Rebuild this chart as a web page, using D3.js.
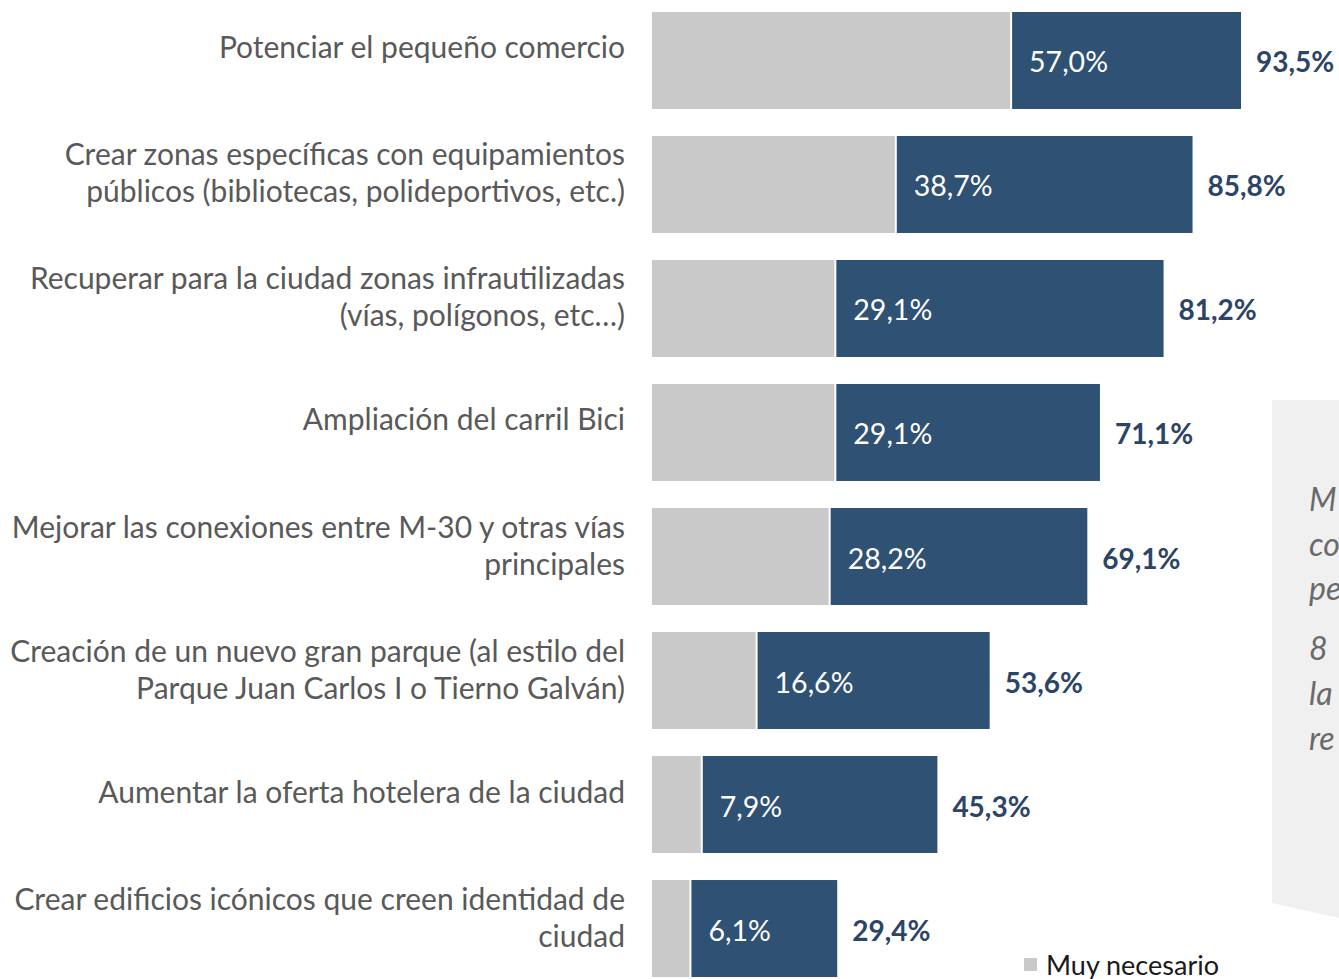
<!DOCTYPE html>
<html>
<head>
<meta charset="utf-8">
<script src="https://cdn.jsdelivr.net/npm/d3@7"></script>
<style>
  html, body { margin: 0; padding: 0; background: #ffffff; }
  svg { display: block; }
</style>
</head>
<body>
<svg id="chart" width="1339" height="979"></svg>
<script>
// ---- data ----
const categories = [
  ["Potenciar el pequeño comercio"],
  ["Crear zonas específicas con  equipamientos", "públicos (bibliotecas, polideportivos, etc.)"],
  ["Recuperar para la ciudad zonas infrautilizadas", "(vías, polígonos, etc…)"],
  ["Ampliación del carril Bici"],
  ["Mejorar las conexiones entre M-30 y otras vías", "principales"],
  ["Creación de un nuevo gran parque (al estilo del", "Parque Juan Carlos I o Tierno Galván)"],
  ["Aumentar la oferta hotelera de la ciudad"],
  ["Crear edificios icónicos que creen identidad de", "ciudad"]
];
const muyNecesario = [57.0, 38.7, 29.1, 29.1, 28.2, 16.6, 7.9, 6.1];
const totalNecesario = [93.5, 85.8, 81.2, 71.1, 69.1, 53.6, 45.3, 29.4];
const legendLabels = ["Muy necesario"];
const calloutLines = ["M", "co", "pe", "8", "la", "re"];

const fmt = v => v.toFixed(1).replace(".", ",") + "%";
const FONT = "Lato, 'Open Sans', sans-serif";

const svg = d3.select("#chart");

// callout panel (partially visible on the right)
svg.append("path")
  .attr("d", "M1272,400 L1339,400 L1339,918 L1272,903 Z")
  .attr("fill", "#f0f0f0");
svg.append("g").selectAll("text").data(calloutLines).join("text")
  .attr("x", 1309)
  .attr("y", (d, i) => [511, 556, 600, 660, 705, 750][i])
  .attr("font-family", FONT)
  .attr("font-style", "italic")
  .attr("font-size", 32)
  .attr("fill", "#6a6a6a")
  .text(d => d);

const idx = d3.range(categories.length);
const x = d3.scaleLinear().domain([0, 100]).range([652, 652 + 630]);
const y = d3.scaleBand().domain(idx).range([12, 977]).paddingInner(0.218).paddingOuter(0);

const rows = svg.append("g").selectAll("g").data(idx).join("g");

// grey segment (Muy necesario)
rows.append("rect")
  .attr("x", x(0))
  .attr("y", i => y(i))
  .attr("width", i => x(muyNecesario[i]) - x(0))
  .attr("height", y.bandwidth())
  .attr("fill", "#c9c9c9");

// dark segment (remainder up to total)
rows.append("rect")
  .attr("x", i => x(muyNecesario[i]))
  .attr("y", i => y(i))
  .attr("width", i => x(totalNecesario[i]) - x(muyNecesario[i]))
  .attr("height", y.bandwidth())
  .attr("fill", "#2f5173");

// white separator between segments
rows.append("line")
  .attr("x1", i => x(muyNecesario[i]))
  .attr("x2", i => x(muyNecesario[i]))
  .attr("y1", i => y(i))
  .attr("y2", i => y(i) + y.bandwidth())
  .attr("stroke", "#ffffff")
  .attr("stroke-width", 2);

// inner labels (Muy necesario value)
rows.append("text")
  .attr("x", i => x(muyNecesario[i]) + 18)
  .attr("y", i => y(i) + y.bandwidth() / 2 + 12)
  .attr("font-family", FONT)
  .attr("font-size", 28.5)
  .attr("fill", "#ffffff")
  .text(i => fmt(muyNecesario[i]));

// total labels
rows.append("text")
  .attr("x", i => x(totalNecesario[i]) + 15)
  .attr("y", i => y(i) + y.bandwidth() / 2 + 12)
  .attr("font-family", FONT)
  .attr("font-size", 28)
  .attr("font-weight", "bold")
  .attr("fill", "#2c4466")
  .text(i => fmt(totalNecesario[i]));

// category labels
rows.each(function(i) {
  const lines = categories[i];
  const c = y(i) + y.bandwidth() / 2;
  const t = d3.select(this).append("text")
    .attr("text-anchor", "end")
    .attr("font-family", FONT)
    .attr("font-size", 30)
    .attr("fill", "#595959");
  lines.forEach((ln, k) => {
    const base = lines.length === 1 ? c - 2 : c - 19 + k * 37;
    t.append("tspan").attr("x", 625).attr("y", base).text(ln);
  });
});

// legend
const lg = svg.append("g");
lg.append("rect").attr("x", 1024).attr("y", 958).attr("width", 13).attr("height", 13).attr("fill", "#c9c9c9");
lg.append("text").attr("x", 1046).attr("y", 975)
  .attr("font-family", FONT).attr("font-size", 27).attr("fill", "#1a1a1a")
  .text(legendLabels[0]);
</script>
</body>
</html>
